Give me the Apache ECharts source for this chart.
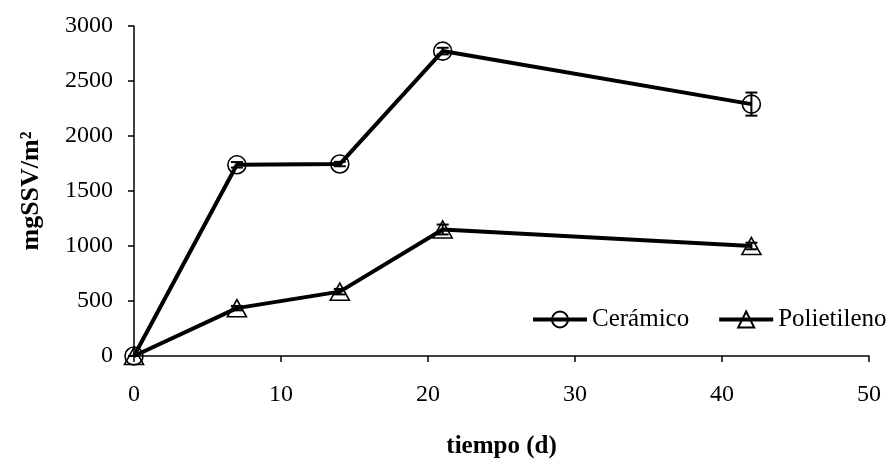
<!DOCTYPE html>
<html>
<head>
<meta charset="utf-8">
<script src="https://cdn.jsdelivr.net/npm/echarts@6/dist/echarts.min.js"></script>
<style>
  html, body { margin: 0; padding: 0; background: #fff; }
  #chart { width: 896px; height: 464px; }
</style>
</head>
<body>
<div id="chart"></div>
<script>
// Sampling days and biomass on each support (mg SSV per m²)
const days = [0, 7, 14, 21, 42];
const ceramico = [0, 1738, 1745, 2772, 2290];
const ceramicoErr = [0, 25, 20, 30, 105];
const polietileno = [0, 435, 585, 1150, 1000];
const polietilenoErr = [0, 20, 25, 45, 30];
const xTicks = [0, 10, 20, 30, 40, 50];
const yTicks = [0, 500, 1000, 1500, 2000, 2500, 3000];

const FONT = '"Liberation Serif", "Times New Roman", serif';

function pairs(xs, ys) { return xs.map((x, i) => [x, ys[i]]); }
function errRows(xs, ys, es) { return xs.map((x, i) => [x, ys[i] - es[i], ys[i] + es[i]]); }

// Vertical error bar with caps, positioned through the axis scales
function errorBar(params, api) {
  const x = api.value(0);
  const lo = api.coord([x, api.value(1)]);
  const hi = api.coord([x, api.value(2)]);
  const hw = 6;
  const st = { stroke: '#000', lineWidth: 2 };
  return {
    type: 'group',
    children: [
      { type: 'line', shape: { x1: lo[0], y1: lo[1], x2: hi[0], y2: hi[1] }, style: st },
      { type: 'line', shape: { x1: lo[0] - hw, y1: lo[1], x2: lo[0] + hw, y2: lo[1] }, style: st },
      { type: 'line', shape: { x1: hi[0] - hw, y1: hi[1], x2: hi[0] + hw, y2: hi[1] }, style: st }
    ]
  };
}

const chart = echarts.init(document.getElementById('chart'), null, { renderer: 'canvas' });
chart.setOption({
  animation: false,
  backgroundColor: '#fff',
  textStyle: { fontFamily: FONT, color: '#000' },
  grid: { left: 134, right: 27, top: 26, bottom: 105, containLabel: false },
  legend: {
    orient: 'horizontal',
    left: 531, top: 307, width: 365, padding: 0,
    itemWidth: 54, itemHeight: 20, itemGap: 28,
    lineStyle: { width: 4, color: '#000' },
    textStyle: { fontFamily: FONT, fontSize: 25, color: '#000' },
    data: ['Cerámico', 'Polietileno']
  },
  xAxis: {
    type: 'value', min: 0, max: 50, interval: 10,
    name: 'tiempo (d)', nameLocation: 'middle', nameGap: 78,
    nameTextStyle: { fontFamily: FONT, fontSize: 25, fontWeight: 'bold', color: '#000' },
    axisLine: { lineStyle: { color: '#000', width: 1.5 } },
    axisTick: { show: true, inside: false, length: 6, lineStyle: { color: '#000', width: 1.5 } },
    axisLabel: {
      fontFamily: FONT, fontSize: 24, color: '#000', margin: 27,
      formatter: v => xTicks.includes(v) ? String(v) : ''
    },
    splitLine: { show: false }
  },
  yAxis: {
    type: 'value', min: 0, max: 3000, interval: 500,
    name: 'mgSSV/m²', nameLocation: 'middle', nameGap: 90,
    nameTextStyle: { fontFamily: FONT, fontSize: 26, fontWeight: 'bold', color: '#000' },
    axisLine: { show: true, lineStyle: { color: '#000', width: 1.5 } },
    axisTick: { show: true, inside: false, length: 6, lineStyle: { color: '#000', width: 1.5 } },
    axisLabel: {
      fontFamily: FONT, fontSize: 24, color: '#000', margin: 21,
      formatter: v => yTicks.includes(v) ? String(v) : ''
    },
    splitLine: { show: false }
  },
  series: [
    {
      name: 'Cerámico', type: 'line', data: pairs(days, ceramico),
      symbol: 'circle', symbolSize: 18, showAllSymbol: true,
      lineStyle: { color: '#000', width: 4 },
      itemStyle: { color: 'rgba(255,255,255,0)', borderColor: '#000', borderWidth: 1.6 },
      z: 3
    },
    {
      name: 'Polietileno', type: 'line', data: pairs(days, polietileno),
      symbol: 'triangle', symbolSize: [19, 17], showAllSymbol: true,
      lineStyle: { color: '#000', width: 4 },
      itemStyle: { color: 'rgba(255,255,255,0)', borderColor: '#000', borderWidth: 1.6 },
      z: 3
    },
    {
      type: 'custom', renderItem: errorBar, data: errRows(days, ceramico, ceramicoErr),
      encode: { x: 0, y: [1, 2] }, z: 4, silent: true
    },
    {
      type: 'custom', renderItem: errorBar, data: errRows(days, polietileno, polietilenoErr),
      encode: { x: 0, y: [1, 2] }, z: 4, silent: true
    }
  ]
});
</script>
</body>
</html>
